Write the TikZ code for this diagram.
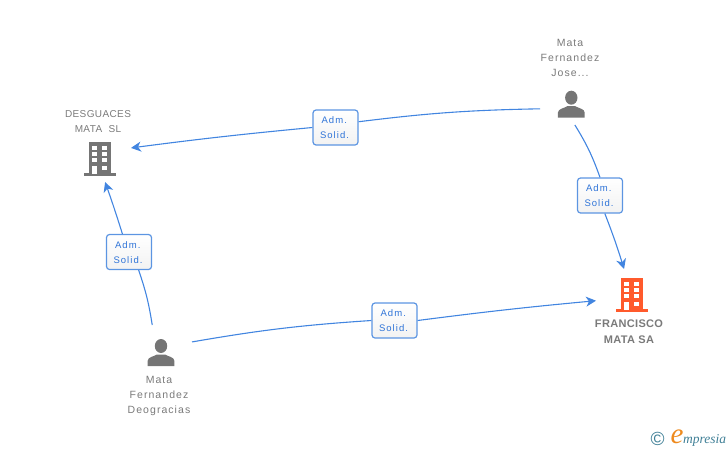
\documentclass[tikz,border=0pt]{standalone}
\usepackage{fontspec}
\setmainfont{Liberation Sans}
\newfontfamily\lblfont[LetterSpace=10]{Liberation Sans}
\newfontfamily\capfont[LetterSpace=4]{Liberation Sans}
\newfontfamily\boldlbl[LetterSpace=3]{Liberation Sans Bold}
\newfontfamily\boxfont[LetterSpace=11]{Liberation Sans}
\newfontfamily\logofont{Liberation Serif Italic}
\usetikzlibrary{arrows.meta}
\definecolor{lineblue}{HTML}{4285E0}
\definecolor{boxblue}{HTML}{5C95E2}
\definecolor{txtblue}{HTML}{2F74D8}
\definecolor{icongrey}{HTML}{757575}
\definecolor{txtgrey}{HTML}{7A7A7A}
\definecolor{iconorange}{HTML}{FF5A2C}
\definecolor{logoteal}{HTML}{3F7F96}
\definecolor{logoorange}{HTML}{EE8A1E}
\tikzset{
  conn/.style={draw=lineblue,line width=1.1pt},
  arr/.style={conn,-{Stealth[length=10pt,width=10pt,inset=3pt]}},
  rolebox/.style={draw=boxblue,line width=1.2pt,rounded corners=3pt,top color=white,bottom color=white!95!black,
    minimum width=45pt,minimum height=35pt,inner sep=0pt,align=center,text=txtblue,
    font=\fontsize{9.5}{15}\boxfont},
  namelabel/.style={align=center,text=txtgrey,font=\fontsize{10.5}{15}\lblfont},
  caplabel/.style={align=center,text=txtgrey,font=\fontsize{10}{15}\capfont},
  boldlabel/.style={align=center,text=txtgrey,font=\fontsize{11}{16}\boldlbl},
  iconzone/.style={inner sep=0pt,outer sep=0pt},
  pics/building/.style={code={
    \fill[#1] (-11.2,-33.7) rectangle (11.2,-2);
    \fill[#1] (-15.8,-2.6) rectangle (15.8,0);
    \foreach \yy in {-30,-24.4,-18.4}{
      \fill[white] (-7.8,\yy) rectangle (-3.2,\yy+4.4);
      \fill[white] (1.8,\yy) rectangle (6.6,\yy+4.4);
    }
    \fill[white] (1.8,-10) rectangle (6.6,-5.6);
    \fill[white] (-7.8,-10) rectangle (-3.2,-2.4);
  }},
  pics/person/.style={code={
    \fill[icongrey] (0,-20) ellipse (6.2 and 7);
    \fill[icongrey] (-13.4,0) -- (-13.4,-5) .. controls (-13.4,-9) and (-7,-9.5) .. (-4,-11.5)
      -- (4,-11.5) .. controls (7,-9.5) and (13.4,-9) .. (13.4,-5) -- (13.4,0) -- cycle;
  }}
}
\begin{document}
\begin{tikzpicture}[x=1pt,y=-1pt]
\useasboundingbox (0,0) rectangle (728,450);
% icons
\pic at (100,176) {building=icongrey};
\pic at (632,312) {building=iconorange};
\pic at (571.3,117.7) {person};
\pic at (161,366) {person};
% anchor nodes round the icons
\node[iconzone,minimum width=62pt,minimum height=40pt] (p1) at (571,105) {};
\node[iconzone,minimum width=62pt,minimum height=54pt] (p2) at (161,352) {};
\node[iconzone,minimum width=62pt,minimum height=48pt] (c1) at (100,158) {};
\node[iconzone,minimum width=72pt,minimum height=52pt] (c2) at (632,295) {};
% role boxes
\node[rolebox,text depth=0pt] (b1) at (335.5,127.5) {\raisebox{-1pt}{Adm.\kern2.5pt}\\\raisebox{-1pt}{Solid.\kern2pt}};
\node[rolebox,text depth=0pt] (b2) at (600,195.5) {\raisebox{-1pt}{Adm.\kern2.5pt}\\\raisebox{-1pt}{Solid.\kern2pt}};
\node[rolebox,text depth=0pt] (b3) at (129,252) {\raisebox{-1pt}{Adm.\kern2.5pt}\\\raisebox{-1pt}{Solid.\kern2pt}};
\node[rolebox,text depth=0pt] (b4) at (394.5,320.5) {\raisebox{-1pt}{Adm.\kern2.5pt}\\\raisebox{-1pt}{Solid.\kern2pt}};
% connectors
\draw[conn] (p1.187) to[bend right=3] (b1.14);
\draw[arr] (b1.west) to[bend right=1] (c1.18);
\draw[conn] (p1.-79) to[bend left=6] (b2.north);
\draw[arr] (b2.-75) to[bend left=2] (c2.107);
\draw[conn] (p2.108) to[bend right=5] (b3.-62);
\draw[arr] (b3.110) to[bend right=1] (c1.-78);
\draw[conn] (p2.18) to[bend left=3] (b4.west);
\draw[arr] (b4.east) to[bend left=1] (c2.189);
% names
\node[namelabel] (n1) at (570,57.5) {Mata\\Fernandez\\Jose...};
\node[caplabel] (n2) at (98,122) {DESGUACES\\MATA\ \ SL};
\node[namelabel] (n3) at (159,396) {Mata\\Fernandez\\Deogracias};
\node[boldlabel] (n4) at (629,332) {FRANCISCO\\MATA SA};
% logo
\node[inner sep=0pt,text=logoteal,font=\fontsize{19}{19}\selectfont] (copy) at (657.5,438.5) {©};
\node[inner sep=0pt,text=logoorange,font=\fontsize{29}{29}\logofont] (loge) at (677,437) {e};
\node[inner sep=0pt,anchor=base west,text=logoteal,font=\fontsize{13.5}{14}\logofont] (logt) at (683,443) {mpresia};
\end{tikzpicture}
\end{document}
